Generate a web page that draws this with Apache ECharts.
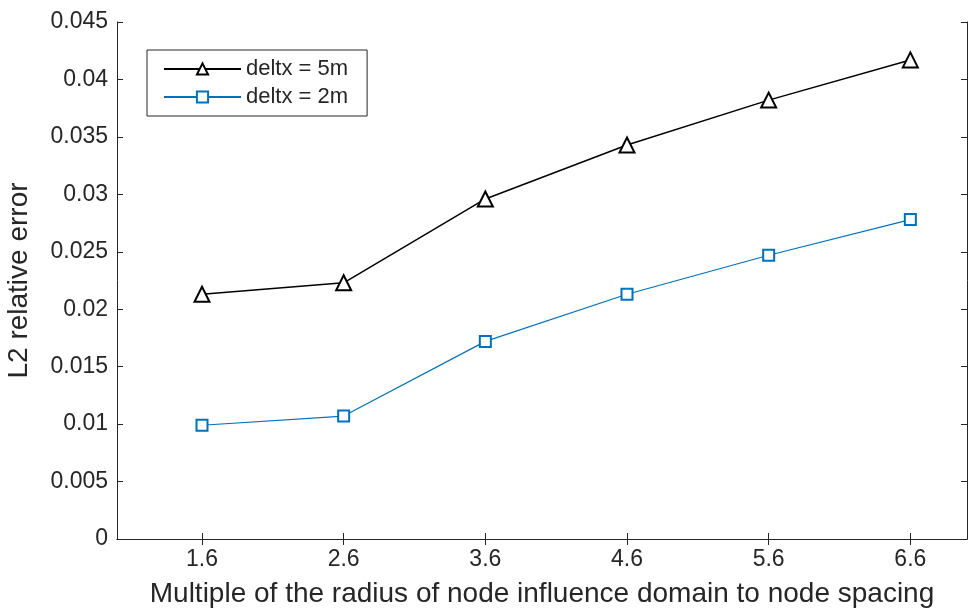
<!DOCTYPE html>
<html>
<head>
<meta charset="utf-8">
<script src="https://cdn.jsdelivr.net/npm/echarts@6/dist/echarts.min.js"></script>
<style>html,body{margin:0;padding:0;background:#fff}#c{width:970px;height:613px}</style>
</head>
<body>
<div id="c"></div>
<script>
var xValues = [1.6, 2.6, 3.6, 4.6, 5.6, 6.6];
var errDelt5 = [0.0213, 0.0223, 0.0296, 0.0343, 0.0382, 0.0417];
var errDelt2 = [0.0099, 0.0107, 0.0172, 0.0213, 0.0247, 0.0278];
var seriesNames = ['deltx = 5m', 'deltx = 2m'];
var xTickValues = [1.6, 2.6, 3.6, 4.6, 5.6, 6.6];
var xTitle = 'Multiple of the radius of node influence domain to node spacing';
var yTitle = 'L2 relative error';

var FONT = 'Liberation Sans';
var TXT = '#262626';
function pairs(xs, ys){ return xs.map(function(x,i){ return [x, ys[i]]; }); }

var chart = echarts.init(document.getElementById('c'));
var axisLine = {show: true, lineStyle: {color: TXT, width: 1}};
chart.setOption({
  backgroundColor: '#fff',
  animation: false,
  grid: {left: 117, right: 3, top: 22, bottom: 74, containLabel: false, outerBoundsMode: 'none'},
  legend: {
    left: 147, top: 50,
    orient: 'vertical',
    data: seriesNames,
    itemWidth: 77, itemHeight: 14, itemGap: 6,
    padding: [8, 19, 8, 16],
    borderColor: TXT, borderWidth: 1,
    backgroundColor: '#fff',
    textStyle: {fontFamily: FONT, fontSize: 22, color: TXT},
  },
  xAxis: [{
    type: 'value', min: 1, max: 7,
    name: xTitle, nameLocation: 'middle', nameGap: 41,
    nameTextStyle: {fontFamily: FONT, fontSize: 28, color: TXT},
    axisLine: axisLine,
    axisTick: {show: true, inside: true, length: 6, customValues: xTickValues, lineStyle: {color: TXT}},
    axisLabel: {customValues: xTickValues, fontFamily: FONT, fontSize: 23, color: TXT, margin: 9},
    splitLine: {show: false}
  }, {
    type: 'value', min: 1, max: 7, position: 'top',
    axisLine: axisLine,
    axisTick: {show: true, inside: true, length: 6, customValues: xTickValues, lineStyle: {color: TXT}},
    axisLabel: {show: false},
    splitLine: {show: false}
  }],
  yAxis: [{
    type: 'value', min: 0, max: 0.045, interval: 0.005,
    name: yTitle, nameLocation: 'middle', nameGap: 84,
    nameTextStyle: {fontFamily: FONT, fontSize: 28, color: TXT},
    axisLine: axisLine,
    axisTick: {show: true, inside: true, length: 6, lineStyle: {color: TXT}},
    axisLabel: {fontFamily: FONT, fontSize: 23, color: TXT, margin: 9},
    splitLine: {show: false}
  }, {
    type: 'value', min: 0, max: 0.045, interval: 0.005, position: 'right',
    axisLine: axisLine,
    axisTick: {show: true, inside: true, length: 6, lineStyle: {color: TXT}},
    axisLabel: {show: false},
    splitLine: {show: false}
  }],
  series: [{
    name: seriesNames[0], type: 'line',
    data: pairs(xValues, errDelt5),
    symbol: 'emptyTriangle', symbolSize: 15,
    lineStyle: {color: '#000', width: 1.5},
    itemStyle: {color: '#000', borderColor: '#333', borderWidth: 1.5},
  }, {
    name: seriesNames[1], type: 'line',
    data: pairs(xValues, errDelt2),
    symbol: 'emptyRect', symbolSize: 11,
    lineStyle: {color: '#0072BD', width: 1.2},
    itemStyle: {color: '#0072BD', borderColor: '#0072BD', borderWidth: 1.5},
  }]
});
</script>
</body>
</html>
